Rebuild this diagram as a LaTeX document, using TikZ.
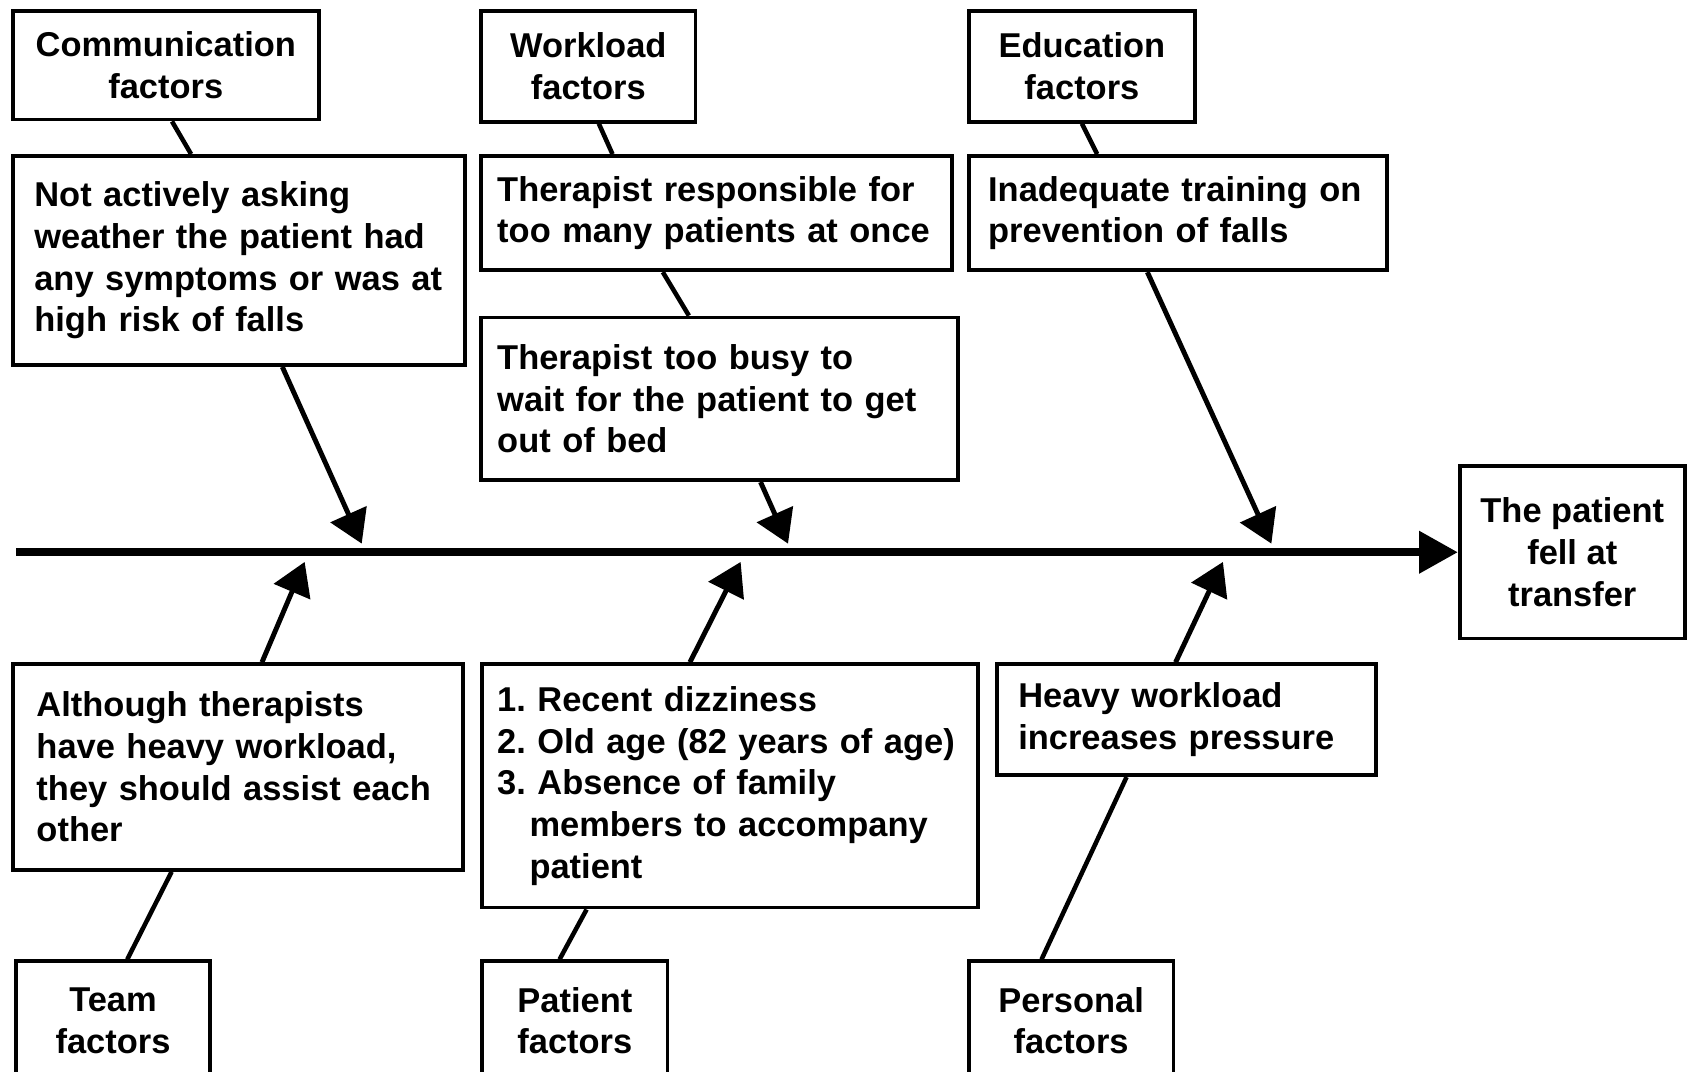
\documentclass[tikz,border=0pt]{standalone}
\usepackage{fontspec}
\setmainfont{Liberation Sans}
\usetikzlibrary{arrows.meta}
\usetikzlibrary{calc}
\frenchspacing

\begin{document}
\begin{tikzpicture}[x=0.01cm,y=-0.01cm,font=\fontsize{9.1}{11}\selectfont\bfseries,
	box/.style={draw, line width=1pt, inner ysep=0pt, align=left},
	head/.style={draw, line width=1pt, inner sep=0pt, align=center},
	link/.style={line width=1.2pt},
	cause/.style={line width=1.3pt, -{Triangle[length=0.3cm,width=0.36cm]}},
	spine/.style={line width=2pt, -{Triangle[length=0.36cm,width=0.38cm]}}]
	\useasboundingbox (0,0) rectangle (1568,995);

	% category boxes
	\node[head, minimum width=2.84cm, minimum height=1.01cm] (comm) at (154,60.5) {Communication\\factors};
	\node[head, minimum width=1.99cm, minimum height=1.03cm] (work) at (546.5,61.5) {Workload\\factors};
	\node[head, minimum width=2.10cm, minimum height=1.03cm] (edu) at (1005,61.5) {Education\\factors};
	\node[head, minimum width=1.80cm, minimum height=1.10cm] (team) at (105,948) {Team\\factors};
	\node[head, minimum width=1.72cm, minimum height=1.10cm] (pat) at (534,948) {Patient\\factors};
	\node[head, minimum width=1.90cm, minimum height=1.10cm] (pers) at (995,948) {Personal\\factors};

	% cause boxes
	\node[box, text width=3.80cm, inner xsep=0.20cm, minimum height=1.94cm] (ask) at (222,242)
		{Not actively asking\\weather the patient had\\any symptoms or was at\\high risk of falls};
	\node[box, text width=4.07cm, inner xsep=0.15cm, minimum height=1.06cm] (many) at (665.5,198)
		{Therapist responsible for\\too many patients at once};
	\node[box, text width=4.13cm, inner xsep=0.15cm, minimum height=1.51cm] (busy) at (668.5,370.5)
		{Therapist too busy to\\wait for the patient to get\\out of bed};
	\node[box, text width=3.52cm, inner xsep=0.18cm, minimum height=1.06cm] (train) at (1094,198)
		{Inadequate training on\\prevention of falls};
	\node[box, text width=3.74cm, inner xsep=0.22cm, minimum height=1.91cm] (assist) at (221,712.5)
		{Although therapists\\have heavy workload,\\they should assist each\\other};
	\node[box, text width=4.32cm, inner xsep=0.14cm, minimum height=2.26cm] (risk) at (678,730)
		{1. Recent dizziness\\2. Old age (82 years of age)\\3. Absence of family\\\hspace*{0.3cm}members to accompany\\\hspace*{0.3cm}patient};
	\node[box, text width=3.12cm, inner xsep=0.20cm, minimum height=1.03cm] (press) at (1102,668.5)
		{Heavy workload\\increases pressure};

	% effect
	\node[head, minimum width=2.09cm, minimum height=1.60cm] (fell) at (1460.5,513) {The patient\\fell at\\transfer};

	% spine
	\coordinate (tail) at (15,513);
	\draw[spine] (tail) -- (fell.west);

	% tips on the spine
	\coordinate (t1) at (336,505);
	\coordinate (t2) at (732,505);
	\coordinate (t3) at (1181,505);
	\coordinate (b1) at (283,522);
	\coordinate (b2) at (688,522);
	\coordinate (b3) at (1136,522);

	% upper branches
	\draw[link] ($(comm.south west)!0.52!(comm.south east)$) -- ($(ask.north west)!0.395!(ask.north east)$);
	\draw[cause] ($(ask.south west)!0.595!(ask.south east)$) -- (t1);
	\draw[link] ($(work.south west)!0.548!(work.south east)$) -- ($(many.north west)!0.281!(many.north east)$);
	\draw[link] ($(many.south west)!0.387!(many.south east)$) -- ($(busy.north west)!0.436!(busy.north east)$);
	\draw[cause] ($(busy.south west)!0.585!(busy.south east)$) -- (t2);
	\draw[link] ($(edu.south west)!0.5!(edu.south east)$) -- ($(train.north west)!0.309!(train.north east)$);
	\draw[cause] ($(train.south west)!0.428!(train.south east)$) -- (t3);

	% lower branches
	\draw[link] ($(team.north west)!0.572!(team.north east)$) -- ($(assist.south west)!0.354!(assist.south east)$);
	\draw[cause] ($(assist.north west)!0.553!(assist.north east)$) -- (b1);
	\draw[link] ($(pat.north west)!0.419!(pat.north east)$) -- ($(risk.south west)!0.213!(risk.south east)$);
	\draw[cause] ($(risk.north west)!0.42!(risk.north east)$) -- (b2);
	\draw[link] ($(pers.north west)!0.358!(pers.north east)$) -- ($(press.south west)!0.344!(press.south east)$);
	\draw[cause] ($(press.north west)!0.472!(press.north east)$) -- (b3);
\end{tikzpicture}
\end{document}
